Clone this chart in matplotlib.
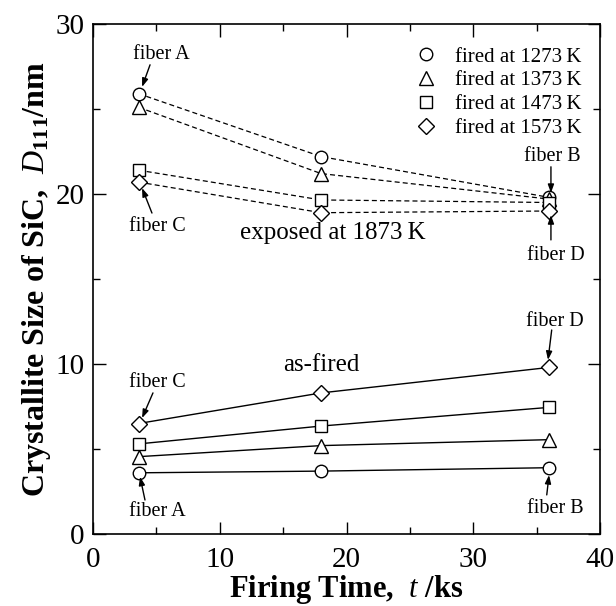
import matplotlib
matplotlib.use("Agg")
import matplotlib.pyplot as plt
from matplotlib.lines import Line2D

plt.rcParams['font.family'] = ['Liberation Serif', 'DejaVu Serif']
plt.rcParams['mathtext.fontset'] = 'custom'
plt.rcParams['mathtext.rm'] = 'Liberation Serif'
plt.rcParams['mathtext.it'] = 'Liberation Serif:italic'
plt.rcParams['mathtext.bf'] = 'Liberation Serif:bold'

# firing time (ks)
tempo = [3.6, 18, 36]

temperaturas = ["1273", "1373", "1473", "1573"]
marcadores = ["o", "^", "s", "D"]
tamanhos = [9, 10, 9, 8]

# crystallite size after exposure at 1873 K (nm)
exposto = [
    [25.9, 22.2, 19.8],
    [25.1, 21.2, 19.7],
    [21.4, 19.65, 19.5],
    [20.7, 18.9, 19.0],
]

# crystallite size as-fired (nm)
queimado = [
    [3.6, 3.7, 3.9],
    [4.55, 5.2, 5.55],
    [5.3, 6.35, 7.45],
    [6.5, 8.3, 9.8],
]

fig = plt.figure(figsize=(6.16, 6.06), dpi=100)
ax = fig.add_axes([0.151, 0.1188, 0.823, 0.8416])

for i in range(4):
    ax.plot(tempo, exposto[i], linestyle=(0, (4, 2.5)), color="black", lw=0.9,
            marker=marcadores[i], markersize=tamanhos[i],
            markerfacecolor="white", markeredgecolor="black", markeredgewidth=1)
    ax.plot(tempo, queimado[i], linestyle="-", color="black", lw=1.0,
            marker=marcadores[i], markersize=tamanhos[i],
            markerfacecolor="white", markeredgecolor="black", markeredgewidth=1)

ax.set_xlim(0, 40)
ax.set_ylim(0, 30)
ax.set_xticks([0, 10, 20, 30, 40])
ax.set_yticks([0, 10, 20, 30])
ax.set_xticks([5, 15, 25, 35], minor=True)
ax.set_yticks([5, 15, 25], minor=True)
ax.tick_params(which="both", direction="in", top=True, right=True, width=1,
               labelsize=21)
ax.tick_params(which="major", length=9)
ax.tick_params(which="minor", length=5)
ax.tick_params(axis="x", pad=9)
ax.tick_params(axis="y", pad=6)
for s in ax.spines.values():
    s.set_linewidth(1.2)

ax.set_xlabel(r"Firing Time,  $t$ /ks", fontsize=22, fontweight="bold", labelpad=0)
ax.set_ylabel(r"Crystallite Size of SiC,  $D_{\mathbf{111}}$/nm", fontsize=23,
              fontweight="bold", labelpad=2)

# legend
handles = [Line2D([], [], linestyle="none", marker=marcadores[i],
                  markersize=tamanhos[i], markerfacecolor="white",
                  markeredgecolor="black", markeredgewidth=1)
           for i in range(4)]
labels = ["fired at " + t + "\u2009K" for t in temperaturas]
ax.legend(handles, labels, loc="upper right", bbox_to_anchor=(0.985, 0.975),
          frameon=False, fontsize=15, borderpad=0, handlelength=1.0,
          handletextpad=0.9, labelspacing=0.2)

# labels
ax.text(18.9, 17.7, "exposed at 1873\u2009K", fontsize=18, ha="center", va="center")
ax.text(18.0, 9.95, "as-fired", fontsize=18, ha="center", va="center")

anotacoes = [
    ("fiber A", (5.4, 28.2), (4.5, 27.6), (3.87, 26.3)),
    ("fiber C", (5.1, 18.1), (4.65, 18.88), (3.87, 20.35)),
    ("fiber B", (36.2, 22.2), (36.13, 21.6), (36.13, 20.06)),
    ("fiber D", (36.5, 16.4), (36.13, 17.3), (36.13, 18.76)),
    ("fiber C", (5.1, 8.9), (4.73, 8.3), (3.87, 6.82)),
    ("fiber A", (5.1, 1.3), (4.1, 2.0), (3.71, 3.37)),
    ("fiber D", (36.4, 12.5), (36.19, 12.0), (35.9, 10.24)),
    ("fiber B", (36.5, 1.5), (35.8, 2.3), (35.98, 3.47)),
]
for texto, pos, cauda, ponta in anotacoes:
    ax.text(pos[0], pos[1], texto, fontsize=14.5, ha="center", va="center")
    ax.annotate("", xy=ponta, xytext=cauda,
                arrowprops=dict(arrowstyle="-|>,head_length=0.5,head_width=0.18",
                                color="black", lw=1, shrinkA=0, shrinkB=0))

fig.savefig("out.png", dpi=100)
